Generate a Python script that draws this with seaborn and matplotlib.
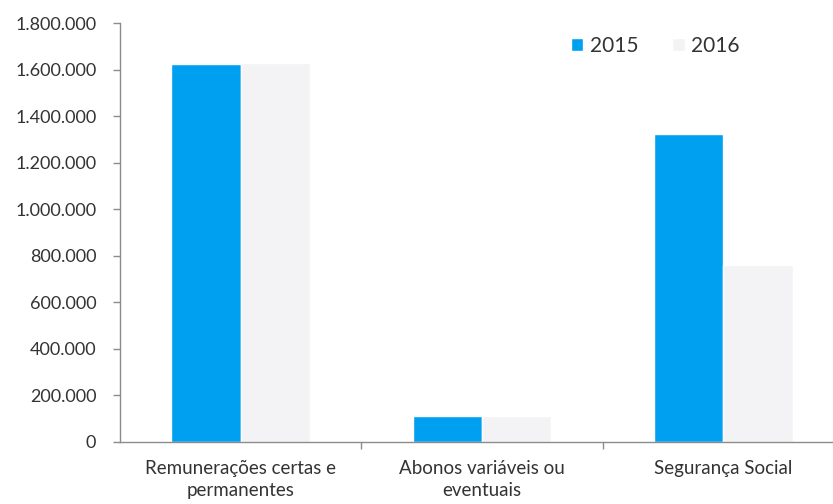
import matplotlib
matplotlib.use("Agg")
import matplotlib.pyplot as plt
import matplotlib.ticker as mticker
import seaborn as sns
import pandas as pd

# Values
categories = ["Remunerações certas e\npermanentes", "Abonos variáveis ou\neventuais", "Segurança Social"]
years = ["2015", "2016"]
values_2015 = [1625000, 110000, 1325000]
values_2016 = [1630000, 110000, 760000]

df = pd.DataFrame({
    "categoria": categories * 2,
    "ano": [years[0]] * 3 + [years[1]] * 3,
    "valor": values_2015 + values_2016,
})

sns.set_style("white")
plt.rcParams['font.family'] = ['Lato', 'DejaVu Sans']

fig = plt.figure(figsize=(8.33, 5.04), dpi=100)
ax = fig.add_axes([0.144, 0.1236, 0.869, 0.830])

sns.barplot(data=df, x="categoria", y="valor", hue="ano",
            palette=["#00a0f0", "#f3f3f5"], width=0.575, gap=0,
            saturation=1, ax=ax, legend=True)

ax.set_xlim(-0.5, 2.5)
ax.set_ylim(0, 1800000)
ax.yaxis.set_major_locator(mticker.MultipleLocator(200000))
ax.yaxis.set_major_formatter(mticker.FuncFormatter(lambda v, p: f"{int(v):,}".replace(",", ".")))

ax.set_xlabel("")
ax.set_ylabel("")
for s in ["top", "right"]:
    ax.spines[s].set_visible(False)
for s in ["left", "bottom"]:
    ax.spines[s].set_color("#8c8c8c")
    ax.spines[s].set_linewidth(1.0)

ax.tick_params(axis="y", which="major", left=True, length=5, width=1, color="#8c8c8c",
               labelsize=13, labelcolor="#333333", pad=12)
ax.tick_params(axis="x", which="major", bottom=False, labelsize=13.5, labelcolor="#333333", pad=10)
for lbl in ax.get_xticklabels():
    lbl.set_linespacing(1.3)
ax.set_xticks([0.5, 1.5], minor=True)
ax.tick_params(axis="x", which="minor", bottom=True, length=5, width=1, color="#8c8c8c")

leg = ax.legend(frameon=False, loc="upper right", bbox_to_anchor=(0.882, 1.015), ncol=2,
                fontsize=15, handlelength=0.6, handleheight=0.6, columnspacing=1.65,
                handletextpad=0.3)
for t in leg.get_texts():
    t.set_color("#333333")

fig.savefig("out.png", dpi=100)
